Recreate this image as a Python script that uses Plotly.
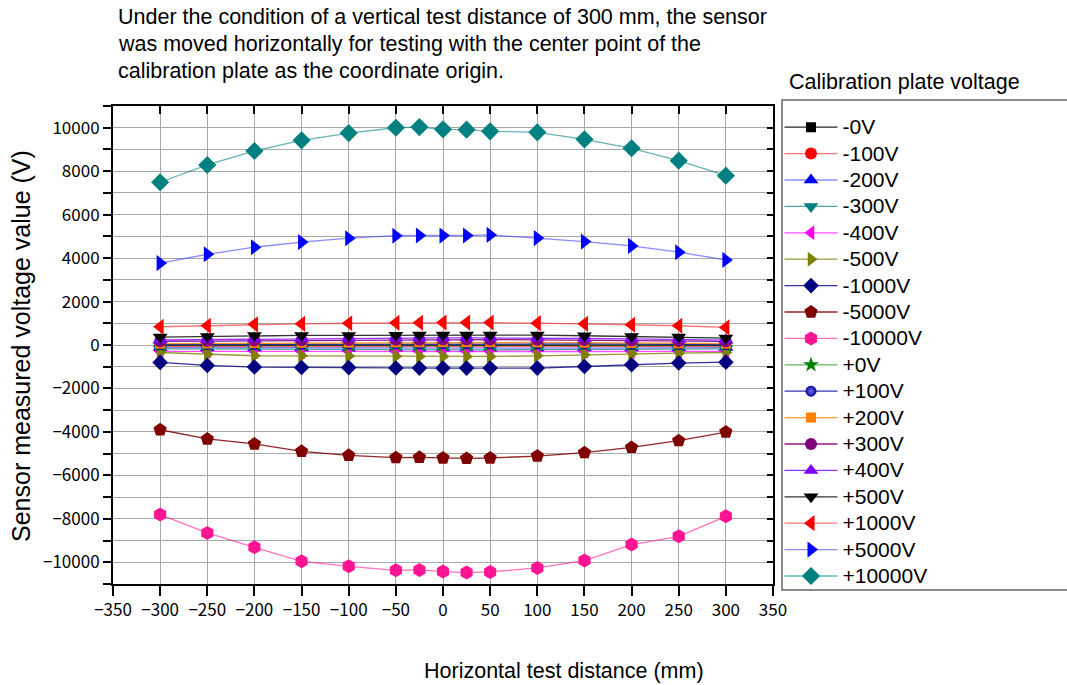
import plotly.graph_objects as go

distance_mm = [-300, -250, -200, -150, -100, -50, -25, 0, 25, 50, 100, 150, 200, 250, 300]

series_names = ["-0V", "-100V", "-200V", "-300V", "-400V", "-500V", "-1000V", "-5000V", "-10000V",
                "+0V", "+100V", "+200V", "+300V", "+400V", "+500V", "+1000V", "+5000V", "+10000V"]

neg_0 = [-30, -25, -22, -20, -18, -18, -20, -20, -20, -20, -20, -22, -25, -28, -30]
neg_100 = [-70, -72, -75, -78, -80, -80, -80, -80, -80, -80, -80, -78, -75, -72, -70]
neg_200 = [-120, -128, -135, -142, -148, -150, -150, -150, -150, -150, -148, -142, -135, -128, -120]
neg_300 = [-180, -190, -200, -210, -215, -220, -220, -220, -220, -220, -215, -210, -200, -190, -180]
neg_400 = [-290, -295, -300, -300, -300, -300, -300, -297, -297, -300, -300, -300, -300, -295, -290]
neg_500 = [-345, -420, -495, -500, -505, -520, -525, -527, -527, -527, -500, -450, -405, -375, -345]
neg_1000 = [-800, -940, -1015, -1035, -1040, -1060, -1063, -1063, -1063, -1063, -1063, -990, -910, -830, -790]
neg_5000 = [-3900, -4325, -4555, -4895, -5080, -5185, -5170, -5200, -5220, -5200, -5110, -4955, -4715, -4405, -4005]
neg_10000 = [-7805, -8650, -9310, -9955, -10185, -10370, -10350, -10430, -10475, -10445, -10260, -9920, -9185, -8805, -7885]
pos_0 = [-10, -5, 0, 5, 8, 10, 10, 10, 10, 10, 8, 5, 0, -5, -10]
pos_100 = [20, 25, 35, 45, 50, 55, 58, 60, 60, 58, 55, 48, 40, 30, 20]
pos_200 = [60, 70, 85, 100, 110, 120, 125, 130, 130, 128, 120, 105, 90, 75, 60]
pos_300 = [170, 185, 205, 220, 230, 240, 245, 250, 250, 248, 240, 225, 205, 185, 165]
pos_400 = [230, 250, 280, 300, 310, 320, 325, 330, 330, 330, 320, 300, 280, 255, 225]
pos_500 = [365, 390, 435, 440, 440, 445, 455, 460, 465, 465, 455, 425, 395, 365, 320]
pos_1000 = [840, 885, 950, 975, 1000, 1020, 1025, 1030, 1030, 1030, 1005, 975, 935, 885, 810]
pos_5000 = [3770, 4175, 4500, 4735, 4915, 5030, 5040, 5035, 5040, 5065, 4920, 4760, 4560, 4270, 3915]
pos_10000 = [7490, 8285, 8930, 9420, 9755, 10000, 10030, 9925, 9910, 9835, 9790, 9465, 9055, 8485, 7795]

series_values = [neg_0, neg_100, neg_200, neg_300, neg_400, neg_500, neg_1000, neg_5000, neg_10000,
                 pos_0, pos_100, pos_200, pos_300, pos_400, pos_500, pos_1000, pos_5000, pos_10000]

styles = [
    ("#000000", "rgba(0,0,0,0.85)", "square", 10),
    ("#ff0000", "rgba(255,60,60,0.7)", "circle", 12),
    ("#0000ff", "rgba(60,60,255,0.6)", "triangle-up", 13),
    ("#008080", "rgba(0,128,128,0.7)", "triangle-down", 13),
    ("#ff00ff", "rgba(255,0,255,0.7)", "triangle-left", 13),
    ("#808000", "rgba(128,128,0,0.8)", "triangle-right", 13),
    ("#000080", "rgba(0,0,128,0.8)", "diamond", 12),
    ("#800000", "rgba(128,0,0,0.85)", "pentagon", 14),
    ("#ff1493", "rgba(255,20,147,0.6)", "hexagon", 14),
    ("#008000", "rgba(0,128,0,0.6)", "star", 12),
    ("#0000a0", "rgba(0,0,160,0.8)", "circle", 11),
    ("#ff8000", "rgba(255,128,0,0.8)", "square", 10),
    ("#800080", "rgba(128,0,128,0.9)", "circle", 12),
    ("#8000ff", "rgba(128,0,255,0.8)", "triangle-up", 13),
    ("#000000", "rgba(0,0,0,0.8)", "triangle-down", 13),
    ("#ff0000", "rgba(255,60,60,0.7)", "triangle-left", 14),
    ("#0000ff", "rgba(60,60,255,0.6)", "triangle-right", 14),
    ("#008080", "rgba(0,128,128,0.6)", "diamond", 14),
]

fig = go.Figure()
for name, vals, (mcol, lcol, sym, size) in zip(series_names, series_values, styles):
    marker = dict(color=mcol, symbol=sym, size=size, line=dict(width=0))
    if name == "+100V":
        marker["gradient"] = dict(type="radial", color="#7070e0")
    fig.add_trace(go.Scatter(x=distance_mm, y=vals, mode="lines+markers",
                             name='<span style="font-size:21px">' + name + '</span>',
                             line=dict(color=lcol, width=1.3), marker=marker))

W, H = 1067, 685
L, R, T, B = 113, 294, 106, 101
pw, ph = W - L - R, H - T - B

def px(xp):
    return (xp - L) / pw

def py(yp):
    return (H - B - yp) / ph

tick_font = dict(family="Noto Sans CJK JP, DejaVu Sans", size=17, color="#000000")
text_font = dict(family="Liberation Sans, Arial", size=21.5, color="#000000")

fig.update_layout(
    width=W, height=H,
    margin=dict(l=L, r=R, t=T, b=B, pad=0),
    paper_bgcolor="white", plot_bgcolor="white",
    font=text_font,
    xaxis=dict(range=[-350, 350], dtick=50, tick0=0, ticks="outside", ticklen=10, tickwidth=2,
               tickcolor="black", showline=True, linecolor="black", linewidth=2,
               showgrid=True, gridcolor="#a8a8a8", gridwidth=1.3, zeroline=False,
               tickfont=tick_font, tickformat="d"),
    xaxis2=dict(range=[-350, 350], dtick=50, tick0=0, ticks="inside", ticklen=8, tickwidth=2,
                tickcolor="black", showline=True, linecolor="black", linewidth=2,
                overlaying="x", side="top", anchor="y", showticklabels=False,
                showgrid=False, zeroline=False),
    yaxis=dict(range=[-11000, 11000], dtick=2000, tick0=0, ticks="outside", ticklen=8, tickwidth=2,
               tickcolor="black", showline=True, linecolor="black", linewidth=2,
               showgrid=True, gridcolor="#a8a8a8", gridwidth=1.3, zeroline=False,
               tickfont=tick_font, tickformat="d",
               minor=dict(dtick=1000, tick0=0, ticks="outside", ticklen=8, tickwidth=2,
                          tickcolor="black", showgrid=True, gridcolor="#a8a8a8", gridwidth=1.3)),
    yaxis2=dict(range=[-11000, 11000], dtick=1000, tick0=0, ticks="inside", ticklen=6, tickwidth=2,
                tickcolor="black", showline=True, linecolor="black", linewidth=2,
                overlaying="y", side="right", anchor="x", showticklabels=False,
                showgrid=False, zeroline=False),
    legend=dict(x=px(779.5), y=py(109), xanchor="left", yanchor="top",
                bgcolor="rgba(0,0,0,0)", borderwidth=0, maxheight=620,
                font=dict(family="Liberation Sans, Arial", size=18, color="black"),
                itemwidth=53, tracegroupgap=0),
    showlegend=True,
)

# legend frame
fig.add_shape(type="rect", xref="paper", yref="paper", x0=px(782), x1=px(1080), y0=py(590), y1=py(100),
              line=dict(color="#666666", width=1.5), fillcolor="rgba(0,0,0,0)", layer="below")

title_lines = [
    "Under the condition of a vertical test distance of 300 mm, the sensor",
    "was moved horizontally for testing with the center point of the",
    "calibration plate as the coordinate origin.",
]
for i, line in enumerate(title_lines):
    fig.add_annotation(text=line, xref="paper", yref="paper", x=px(116), y=py(17 + 27 * i),
                       xanchor="left", yanchor="middle", showarrow=False, font=text_font)

fig.add_annotation(text="Calibration plate voltage", xref="paper", yref="paper", x=px(787), y=py(82),
                   xanchor="left", yanchor="middle", showarrow=False, font=text_font)
fig.add_annotation(text="Horizontal test distance (mm)", xref="paper", yref="paper", x=px(564), y=py(671),
                   xanchor="center", yanchor="middle", showarrow=False, font=text_font)
fig.add_annotation(text="Sensor measured voltage value (V)", xref="paper", yref="paper", x=px(21), y=py(346),
                   xanchor="center", yanchor="middle", showarrow=False, textangle=-90,
                   font=dict(family="Liberation Sans, Arial", size=25, color="black"))

# invisible trace to activate overlay axes
fig.add_trace(go.Scatter(x=[None], y=[None], xaxis="x2", yaxis="y2", showlegend=False, hoverinfo="skip"))

fig.write_html("out.html")
